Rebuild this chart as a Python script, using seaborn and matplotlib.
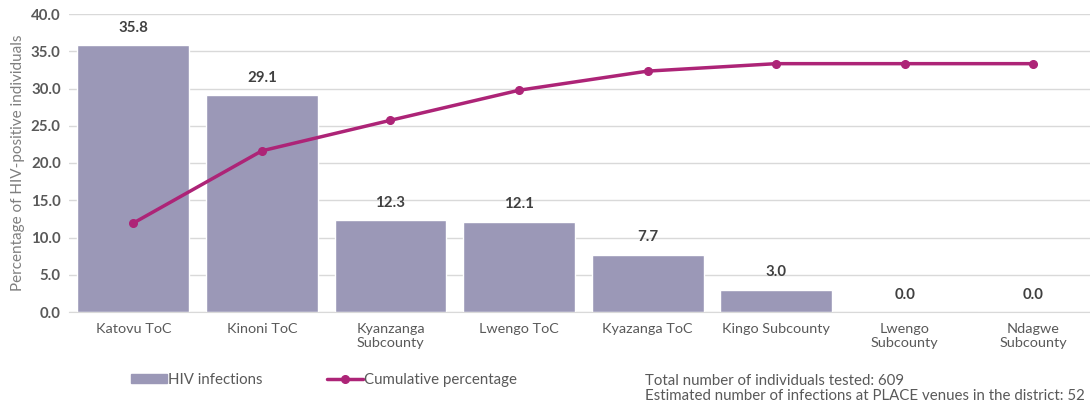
import pandas as pd
import matplotlib.pyplot as plt
import seaborn as sns
from matplotlib.lines import Line2D
from matplotlib.patches import Patch

# --- Data ---
districts = ['Katovu ToC', 'Kinoni ToC', 'Kyanzanga\nSubcounty', 'Lwengo ToC',
             'Kyazanga ToC', 'Kingo Subcounty', 'Lwengo\nSubcounty', 'Ndagwe\nSubcounty']
hiv_pct = [35.8, 29.1, 12.3, 12.1, 7.7, 3.0, 0.0, 0.0]
cumulative_pct = [35.8, 64.9, 77.2, 89.3, 97.0, 100.0, 100.0, 100.0]
df = pd.DataFrame({'district': districts, 'hiv': hiv_pct, 'cum': cumulative_pct})

BAR_COLOR = '#9b98b7'
LINE_COLOR = '#ad2477'
TEXT_COLOR = '#595959'

sns.set_style('white')
plt.rcParams['font.family'] = ['Lato', 'DejaVu Sans']

fig = plt.figure(figsize=(10.9, 4.03), dpi=100)
ax = fig.add_axes([69 / 1090, 1 - 312 / 403, 1 - 69 / 1090, 298 / 403])

sns.barplot(data=df, x='district', y='hiv', color=BAR_COLOR, width=0.87,
            saturation=1, ax=ax, zorder=2)

# value labels
for i, v in enumerate(hiv_pct):
    ax.text(i, v + 1.4, f'{v:.1f}', ha='center', va='bottom',
            fontsize=10.8, fontweight='bold', color='#404040')

ax.set_ylim(0, 40)
ax.set_xlim(-0.5, 7.44)
ax.set_yticks(range(0, 41, 5))
ax.set_yticklabels([f'{t:.1f}' for t in range(0, 41, 5)], fontweight='bold',
                   fontsize=10.8, color=TEXT_COLOR)
ax.tick_params(axis='x', labelsize=10.4, colors=TEXT_COLOR, length=0, pad=8)
ax.tick_params(axis='y', length=0, pad=6)
ax.grid(axis='y', color='#d9d9d9', linewidth=1, zorder=0)
ax.set_axisbelow(True)
for s in ['top', 'right', 'left']:
    ax.spines[s].set_visible(False)
ax.spines['bottom'].set_color('#d9d9d9')
ax.set_xlabel('')
ax.set_ylabel('Percentage of HIV-positive individuals', fontsize=11,
              color='#7f7f7f', labelpad=4)

# cumulative line on hidden secondary axis
ax2 = ax.twinx()
ax2.plot(range(len(districts)), cumulative_pct, color=LINE_COLOR, linewidth=2.5,
         marker='o', markersize=5.5)
ax2.set_ylim(0, 120)
ax2.axis('off')

handles = [Patch(color=BAR_COLOR),
           Line2D([0], [0], color=LINE_COLOR, linewidth=2.5, marker='o', markersize=5.5)]
fig.legend(handles, ['HIV infections', 'Cumulative percentage'], ncol=2,
           loc='center left', bbox_to_anchor=(117 / 1090, 1 - 380 / 403),
           frameon=False, fontsize=10.8, labelcolor=TEXT_COLOR,
           handlelength=2.4, handleheight=0.5, handletextpad=0.1,
           columnspacing=4.3)

fig.text(645 / 1090, 1 - 381 / 403, 'Total number of individuals tested: 609',
         fontsize=10.8, color=TEXT_COLOR, va='center')
fig.text(645 / 1090, 1 - 396 / 403,
         'Estimated number of infections at PLACE venues in the district: 52',
         fontsize=10.8, color=TEXT_COLOR, va='center')

fig.savefig('out.png', dpi=100)
